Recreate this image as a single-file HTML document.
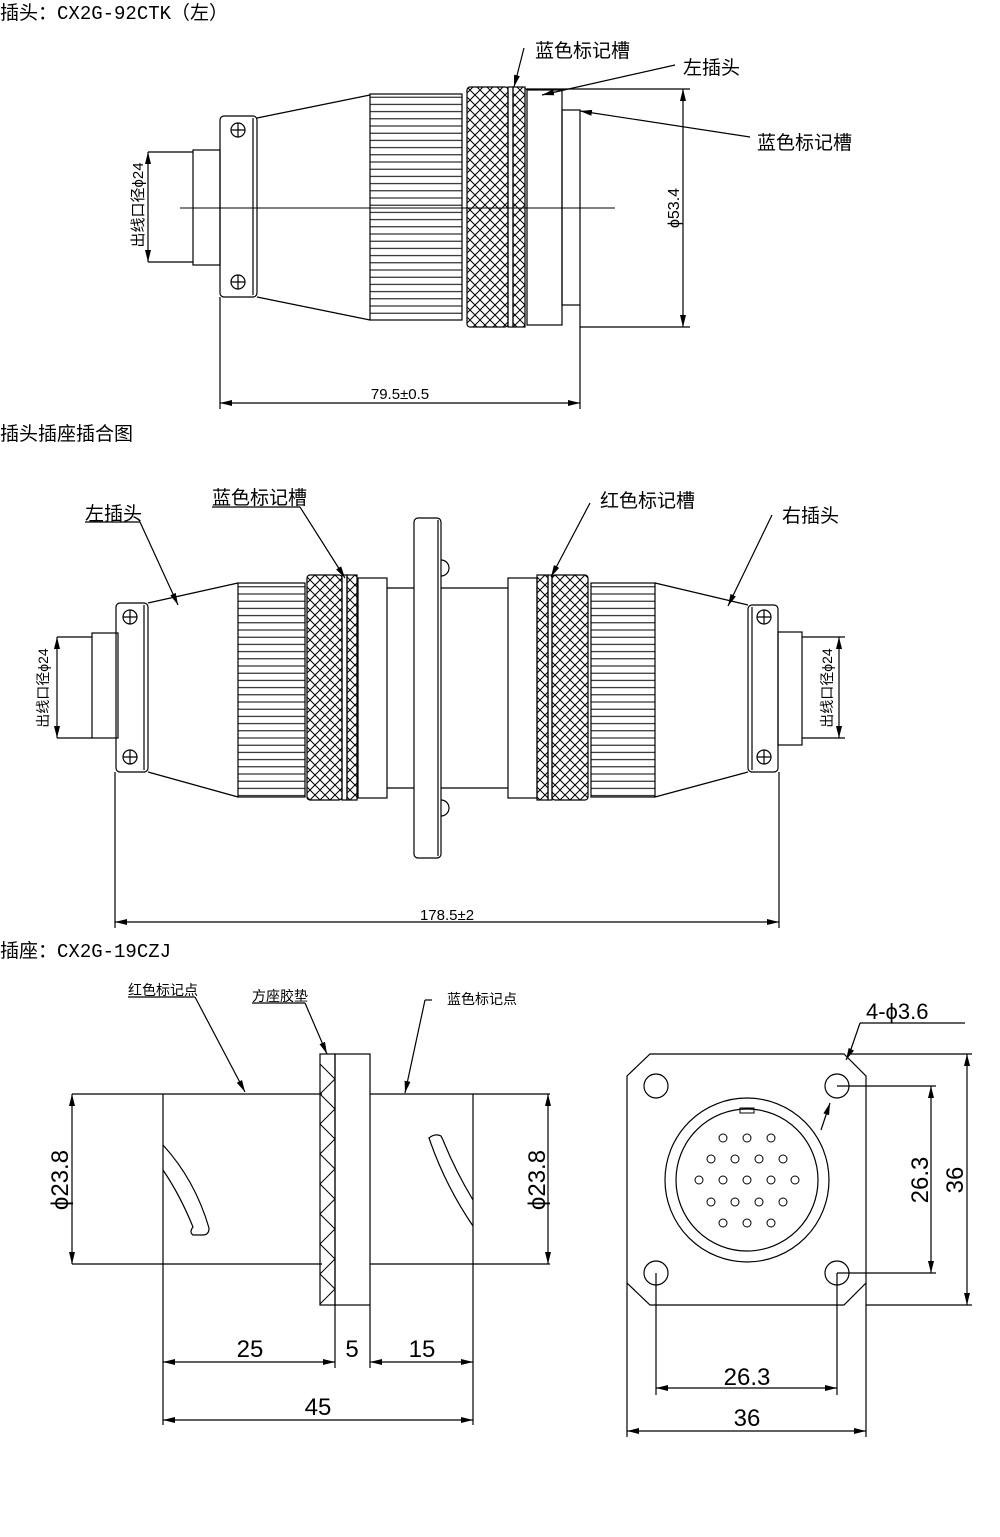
<!DOCTYPE html>
<html><head><meta charset="utf-8"><style>
html,body{margin:0;padding:0;background:#fff;}
svg{display:block;}
text{font-family:"Liberation Sans","Noto Sans CJK SC",sans-serif;fill:#000;}
.t{font-size:19px;}
.m{font-family:"Liberation Mono","Noto Sans CJK SC",monospace;font-size:19px;}
</style></head><body>
<svg width="1000" height="1537" viewBox="0 0 1000 1537" xmlns="http://www.w3.org/2000/svg">
<defs>
<pattern id="rib" patternUnits="userSpaceOnUse" width="10" height="7.2"><line x1="0" y1="3.6" x2="10" y2="3.6" stroke="#000" stroke-width="1"/></pattern>
<pattern id="kn" patternUnits="userSpaceOnUse" width="10" height="10"><path d="M0 0L10 10M10 0L0 10" stroke="#000" stroke-width="1"/></pattern>
<marker id="a" viewBox="0 0 12 6" refX="12" refY="3" markerWidth="12" markerHeight="6" orient="auto-start-reverse" markerUnits="userSpaceOnUse"><path d="M0 0L12 3L0 6z" fill="#000"/></marker>
</defs>
<g fill="none" stroke="#000" stroke-width="1.2">

<!-- ===== TOP PLUG ===== -->
<rect x="193" y="150" width="27" height="115"/>
<rect x="220" y="116" width="37" height="181" rx="4"/>
<line x1="253" y1="118" x2="253" y2="295"/>
<circle cx="238" cy="130" r="7"/><path d="M231 130H245M238 123V137"/>
<circle cx="238" cy="282" r="7"/><path d="M231 282H245M238 275V289"/>
<path d="M257 118L370 95M257 297L370 320"/>
<rect x="370" y="94" width="92" height="226" fill="url(#rib)"/>
<rect x="467" y="87" width="41" height="240" rx="3" fill="url(#kn)"/>
<rect x="508" y="87" width="5" height="240"/>
<rect x="513" y="87" width="12" height="240" fill="url(#kn)"/>
<rect x="527" y="90" width="35" height="235"/>
<rect x="562" y="110" width="18" height="195"/>
<line x1="180" y1="208" x2="615" y2="208" stroke-width="1"/>
<path d="M148 152H193M148 262H193"/>
<line x1="148" y1="152" x2="148" y2="262" marker-start="url(#a)" marker-end="url(#a)"/>
<path d="M525 89H690M580 327H690"/>
<line x1="683" y1="89" x2="683" y2="327" marker-start="url(#a)" marker-end="url(#a)"/>
<path d="M220 297V409M580 305V409"/>
<line x1="220" y1="403" x2="580" y2="403" marker-start="url(#a)" marker-end="url(#a)"/>
<line x1="524" y1="48" x2="514" y2="87" marker-end="url(#a)"/>
<line x1="675" y1="65" x2="542" y2="95" marker-end="url(#a)"/>
<line x1="750" y1="137" x2="580" y2="111" marker-end="url(#a)"/>

<!-- ===== MIDDLE ASSEMBLY ===== -->
<rect x="92" y="633" width="26" height="105"/>
<rect x="116" y="603" width="32" height="169" rx="4"/>
<line x1="144" y1="605" x2="144" y2="770"/>
<circle cx="130" cy="617" r="7"/><path d="M123 617H137M130 610V624"/>
<circle cx="130" cy="757" r="7"/><path d="M123 757H137M130 750V764"/>
<path d="M148 603L238 583M148 772L238 797"/>
<rect x="238" y="583" width="67" height="214" fill="url(#rib)"/>
<rect x="307" y="575" width="35" height="225" rx="3" fill="url(#kn)"/>
<rect x="342" y="575" width="5" height="225"/>
<rect x="347" y="575" width="10" height="225" fill="url(#kn)"/>
<rect x="358" y="578" width="29" height="220"/>
<path d="M387 588H414M387 788H414M441 588H508M441 788H508"/>
<rect x="414" y="518" width="27" height="340" rx="4"/>
<line x1="438" y1="520" x2="438" y2="856"/>
<path d="M441 560A8 8 0 0 1 441 576M441 800A8 8 0 0 1 441 816"/>
<rect x="508" y="578" width="29" height="220"/>
<rect x="537" y="575" width="11" height="225" fill="url(#kn)"/>
<rect x="548" y="575" width="4" height="225"/>
<rect x="552" y="575" width="36" height="225" rx="3" fill="url(#kn)"/>
<rect x="591" y="583" width="64" height="214" fill="url(#rib)"/>
<path d="M655 583L748 605M655 797L748 772"/>
<rect x="748" y="605" width="30" height="167" rx="4"/>
<line x1="752" y1="607" x2="752" y2="770"/>
<circle cx="764" cy="617" r="7"/><path d="M757 617H771M764 610V624"/>
<circle cx="764" cy="757" r="7"/><path d="M757 757H771M764 750V764"/>
<rect x="778" y="632" width="24" height="113"/>
<path d="M57 637H92M57 738H92M802 637H845M802 738H845"/>
<line x1="57" y1="637" x2="57" y2="738" marker-start="url(#a)" marker-end="url(#a)"/>
<line x1="839" y1="637" x2="839" y2="738" marker-start="url(#a)" marker-end="url(#a)"/>
<path d="M115 772V928M779 772V928"/>
<line x1="115" y1="922" x2="779" y2="922" marker-start="url(#a)" marker-end="url(#a)"/>
<path d="M85 522H140"/><line x1="140" y1="522" x2="178" y2="605" marker-end="url(#a)"/>
<path d="M212 507H300"/><line x1="300" y1="507" x2="345" y2="578" marker-end="url(#a)"/>
<line x1="590" y1="503" x2="551" y2="577" marker-end="url(#a)"/>
<line x1="772" y1="515" x2="728" y2="606" marker-end="url(#a)"/>

<!-- ===== BOTTOM LEFT ===== -->
<path d="M72 1094H322M72 1264H322M370 1094H550M370 1264H550"/>
<path d="M163 1094V1425M473 1094V1425"/>
<rect x="320" y="1054" width="15" height="251"/>
<path d="M320 1064L335 1079L320 1094L335 1109L320 1124L335 1139L320 1154L335 1169L320 1184L335 1199L320 1214L335 1229L320 1244L335 1259L320 1274L335 1289L320 1304" stroke-width="1"/>
<rect x="335" y="1054" width="35" height="251"/>
<path d="M335 1305V1368M370 1305V1368"/>
<line x1="72" y1="1094" x2="72" y2="1264" marker-start="url(#a)" marker-end="url(#a)"/>
<line x1="548" y1="1094" x2="548" y2="1264" marker-start="url(#a)" marker-end="url(#a)"/>
<line x1="163" y1="1362" x2="335" y2="1362" marker-start="url(#a)" marker-end="url(#a)"/>
<line x1="370" y1="1362" x2="473" y2="1362" marker-start="url(#a)" marker-end="url(#a)"/>
<line x1="163" y1="1420" x2="473" y2="1420" marker-start="url(#a)" marker-end="url(#a)"/>
<path d="M163 1145Q195 1180 209 1228Q209 1235 203 1235L193 1235Q189 1232 193 1227Q180 1195 163 1170"/>
<path d="M473 1200Q455 1170 443 1140L441 1136Q435 1133 429 1138Q445 1185 473 1226"/>
<path d="M128 997H195"/><line x1="195" y1="997" x2="245" y2="1092" marker-end="url(#a)"/>
<path d="M252 1003H305"/><line x1="305" y1="1003" x2="327" y2="1054" marker-end="url(#a)"/>
<path d="M425 1000H432"/><line x1="425" y1="1000" x2="405" y2="1093" marker-end="url(#a)"/>

<!-- ===== BOTTOM RIGHT ===== -->
<path d="M650 1054H844L866 1076V1283L844 1305H650L627 1283V1076Z"/>
<circle cx="656" cy="1086" r="12"/><circle cx="837" cy="1086" r="12"/>
<circle cx="656" cy="1273" r="12"/><circle cx="837" cy="1273" r="12"/>
<circle cx="747" cy="1180" r="82"/>
<circle cx="747" cy="1180" r="71"/>
<rect x="740" y="1108" width="14" height="5" stroke-width="1"/>
<g stroke-width="1">
<circle cx="723" cy="1138" r="4"/><circle cx="747" cy="1138" r="4"/><circle cx="771" cy="1138" r="4"/>
<circle cx="711" cy="1159" r="4"/><circle cx="735" cy="1159" r="4"/><circle cx="759" cy="1159" r="4"/><circle cx="783" cy="1159" r="4"/>
<circle cx="699" cy="1180" r="4"/><circle cx="723" cy="1180" r="4"/><circle cx="747" cy="1180" r="4"/><circle cx="771" cy="1180" r="4"/><circle cx="795" cy="1180" r="4"/>
<circle cx="711" cy="1202" r="4"/><circle cx="735" cy="1202" r="4"/><circle cx="759" cy="1202" r="4"/><circle cx="783" cy="1202" r="4"/>
<circle cx="723" cy="1223" r="4"/><circle cx="747" cy="1223" r="4"/><circle cx="771" cy="1223" r="4"/>
</g>
<path d="M656 1273V1395M837 1273V1395M627 1283V1437M866 1283V1437"/>
<path d="M837 1086H936M837 1273H936M850 1054H972M866 1305H972"/>
<line x1="931" y1="1086" x2="931" y2="1273" marker-start="url(#a)" marker-end="url(#a)"/>
<line x1="967" y1="1054" x2="967" y2="1305" marker-start="url(#a)" marker-end="url(#a)"/>
<line x1="656" y1="1388" x2="837" y2="1388" marker-start="url(#a)" marker-end="url(#a)"/>
<line x1="627" y1="1431" x2="866" y2="1431" marker-start="url(#a)" marker-end="url(#a)"/>
<path d="M860 1023H965M860 1023L850 1052"/>
<line x1="850" y1="1052" x2="846" y2="1060" marker-end="url(#a)"/>
<line x1="821" y1="1130" x2="830" y2="1103" marker-end="url(#a)"/>
</g>

<text x="0" y="19" class="t">插头：<tspan class="m">CX2G-92CTK</tspan>（左）</text>
<text x="535" y="57" class="t">蓝色标记槽</text>
<text x="683" y="74" class="t">左插头</text>
<text x="757" y="149" class="t">蓝色标记槽</text>
<text transform="translate(143,205) rotate(-90)" text-anchor="middle" font-size="15">出线口径ϕ24</text>
<text transform="translate(679,208) rotate(-90)" text-anchor="middle" font-size="16">ϕ53.4</text>
<text x="400" y="399" text-anchor="middle" font-size="15">79.5±0.5</text>

<text x="0" y="440" class="t">插头插座插合图</text>
<text x="85" y="520" class="t" font-size="18">左插头</text>
<text x="212" y="504" class="t" font-size="18">蓝色标记槽</text>
<text x="600" y="507" class="t" font-size="18">红色标记槽</text>
<text x="782" y="522" class="t" font-size="18">右插头</text>
<text transform="translate(48,688) rotate(-90)" text-anchor="middle" font-size="14">出线口径ϕ24</text>
<text transform="translate(832,688) rotate(-90)" text-anchor="middle" font-size="14">出线口径ϕ24</text>
<text x="447" y="920" text-anchor="middle" font-size="15">178.5±2</text>

<text x="0" y="957" class="t">插座：<tspan class="m">CX2G-19CZJ</tspan></text>
<text x="128" y="995" font-size="14">红色标记点</text>
<text x="252" y="1001" font-size="14">方座胶垫</text>
<text x="447" y="1004" font-size="14">蓝色标记点</text>
<text transform="translate(68,1180) rotate(-90)" text-anchor="middle" font-size="24">ϕ23.8</text>
<text transform="translate(545,1180) rotate(-90)" text-anchor="middle" font-size="24">ϕ23.8</text>
<text x="250" y="1357" text-anchor="middle" font-size="24">25</text>
<text x="352" y="1357" text-anchor="middle" font-size="24">5</text>
<text x="422" y="1357" text-anchor="middle" font-size="24">15</text>
<text x="318" y="1415" text-anchor="middle" font-size="24">45</text>
<text x="866" y="1019" font-size="22">4-ϕ3.6</text>
<text transform="translate(928,1180) rotate(-90)" text-anchor="middle" font-size="24">26.3</text>
<text transform="translate(963,1180) rotate(-90)" text-anchor="middle" font-size="24">36</text>
<text x="747" y="1385" text-anchor="middle" font-size="24">26.3</text>
<text x="747" y="1426" text-anchor="middle" font-size="24">36</text>
</svg>
</body></html>
